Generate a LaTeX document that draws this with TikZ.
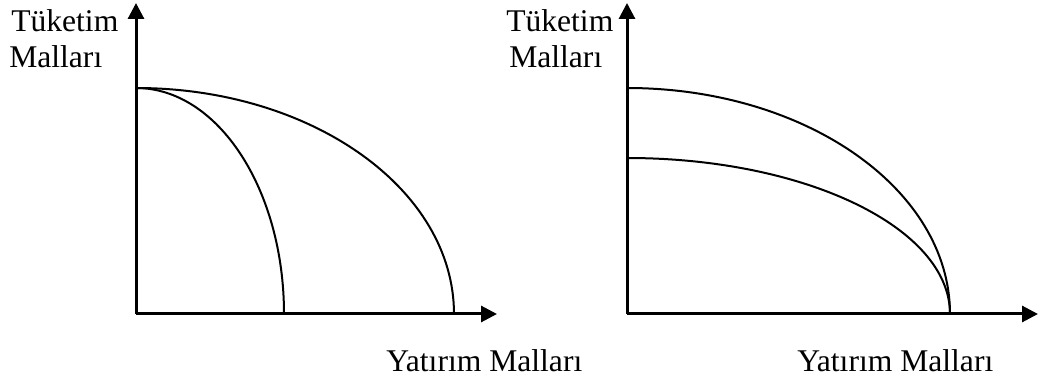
\documentclass[tikz,border=0pt]{standalone}
\usepackage{fontspec}
\setmainfont{Liberation Serif}
\usetikzlibrary{arrows.meta, positioning}

\begin{document}
\begin{tikzpicture}[x=0.75pt, y=-0.75pt,
  axisline/.style={line width=2.25pt, -{Triangle[length=12pt, width=12pt]}},
  ppf/.style={line width=1.5pt},
  lbl/.style={font=\fontsize{23.7}{28}\selectfont, inner sep=0pt, anchor=base west}]
  \useasboundingbox (0,0) rectangle (1040,381);

  % Left panel: axes
  \coordinate (L-origin) at (136,314);
  \coordinate (L-ytip) at (136,3);
  \coordinate (L-xtip) at (497,314);
  \draw[axisline] (L-origin) -- (L-ytip);
  \draw[axisline] (L-origin) -- (L-xtip);

  % Left panel: two frontiers from the same intercept
  \coordinate (L-top) at (136,88);
  \draw[ppf] (L-top) arc[start angle=90, end angle=0, x radius=238.5pt, y radius=169.5pt];
  \draw[ppf] (L-top) arc[start angle=90, end angle=0, x radius=111pt, y radius=169.5pt];

  \node[lbl] (L-ylab1) at (11,32) {Tüketim};
  \node[lbl] (L-ylab2) at (9,68) {Malları};
  \node[lbl] (L-xlab) at (386,372) {Yatırım Malları};

  % Right panel: axes
  \coordinate (R-origin) at (627,314);
  \coordinate (R-ytip) at (627,3);
  \coordinate (R-xtip) at (1038,314);
  \draw[axisline] (R-origin) -- (R-ytip);
  \draw[axisline] (R-origin) -- (R-xtip);

  % Right panel: two frontiers meeting on the x axis
  \coordinate (R-top) at (627,88);
  \coordinate (R-low) at (627,158);
  \draw[ppf] (R-top) arc[start angle=90, end angle=0, x radius=242.25pt, y radius=169.5pt];
  \draw[ppf] (R-low) arc[start angle=90, end angle=0, x radius=242.25pt, y radius=117pt];

  \node[lbl] (R-ylab1) at (506,32) {Tüketim};
  \node[lbl] (R-ylab2) at (509,68) {Malları};
  \node[lbl] (R-xlab) at (797,372) {Yatırım Malları};
\end{tikzpicture}
\end{document}
